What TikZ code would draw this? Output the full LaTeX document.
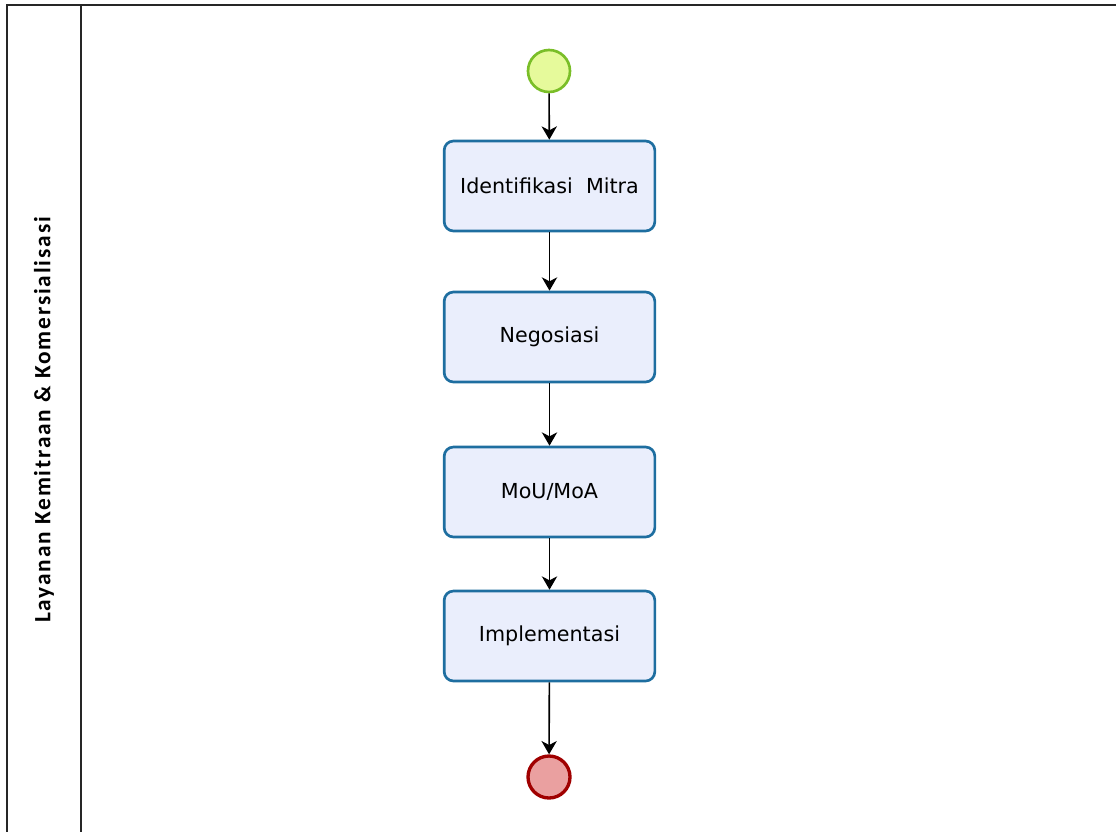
\documentclass[tikz,border=0pt]{standalone}
\usepackage{fontspec}
\usetikzlibrary{arrows.meta}
\newfontfamily\boxfont{DejaVu Sans}
\newfontfamily\lanefont[LetterSpace=8]{Carlito}

\definecolor{startfill}{RGB}{230,250,155}
\definecolor{startline}{RGB}{122,190,40}
\definecolor{taskfill}{RGB}{234,238,252}
\definecolor{taskline}{RGB}{30,110,160}
\definecolor{endfill}{RGB}{234,160,160}
\definecolor{endline}{RGB}{160,0,0}

\tikzset{every picture/.style={line width=0.75pt}}
\tikzset{
  task/.style={draw=taskline, fill=taskfill, line width=2pt, rounded corners=7pt,
    minimum width=158pt, minimum height=67.5pt, font=\boxfont\fontsize{15.5}{18}\selectfont},
  startevent/.style={circle, draw=startline, fill=startfill, line width=2pt, minimum size=31.5pt, inner sep=0pt},
  endevent/.style={circle, draw=endline, fill=endfill, line width=2.5pt, minimum size=31.5pt, inner sep=0pt},
  flow/.style={line width=1.2pt, -{Stealth[length=10pt,width=11.5pt,inset=3pt]}},
  laneline/.style={line width=1.5pt, color=black!85}
}

\begin{document}
\begin{tikzpicture}[x=0.75pt,y=0.75pt,yscale=-1,xscale=1]
\useasboundingbox (0,0) rectangle (1116,832);

%Shape: Pool frame
\draw [laneline] (1116,5) -- (7,5) -- (7,832) ;
%Shape: Lane divider
\draw [laneline] (81,5) -- (81,832) ;

% Text Node
\node [rotate=90, font=\lanefont\bfseries\fontsize{17.5}{20}\selectfont] (lanelabel) at (44,420) {Layanan Kemitraan \& Komersialisasi};

%Start / tasks / end
\node [startevent] (start) at (549,71) {};
\node [task] (identifikasi) at (549.5,186) {Identifikasi\ \ Mitra};
\node [task] (negosiasi) at (549.5,337) {Negosiasi};
\node [task] (mou) at (549.5,492) {MoU/MoA};
\node [task] (implementasi) at (549.5,636) {Implementasi};
\node [endevent] (finish) at (549,777) {};

%Flows
\draw [flow] (start) -- (identifikasi) ;
\draw [flow] (identifikasi) -- (negosiasi) ;
\draw [flow] (negosiasi) -- (mou) ;
\draw [flow] (mou) -- (implementasi) ;
\draw [flow] (implementasi) -- (finish) ;

\end{tikzpicture}
\end{document}
